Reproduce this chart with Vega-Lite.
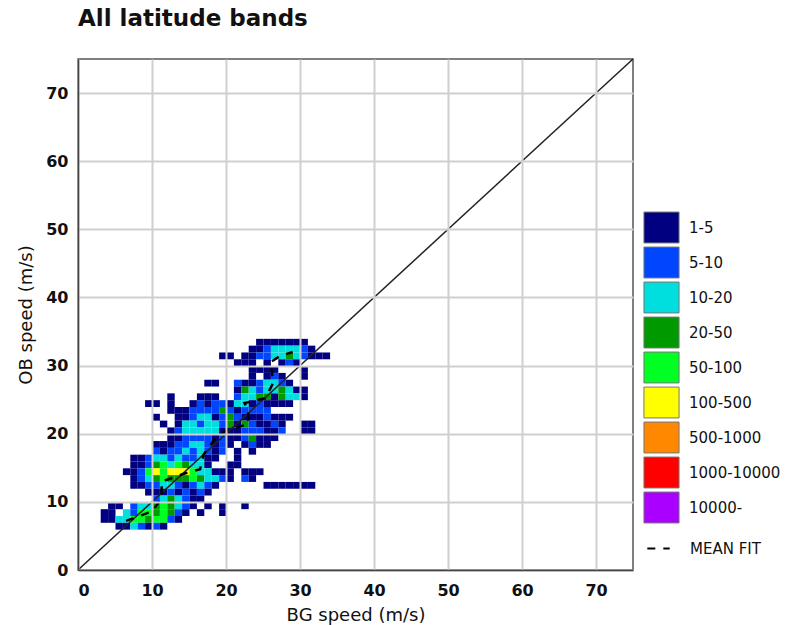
{
  "$schema": "https://vega.github.io/schema/vega-lite/v6.json",
  "autosize": {"type": "none"},
  "padding": {"left": 78, "top": 59, "right": 159, "bottom": 55},
  "width": 555,
  "height": 511,
  "title": {"text": "All latitude bands", "anchor": "start", "frame": "group", "fontSize": 23, "fontWeight": "bold", "font": "DejaVu Sans", "color": "#111", "baseline": "alphabetic", "offset": 7},
  "config": {
    "font": "DejaVu Sans",
    "view": {"stroke": "#555", "strokeWidth": 1.5},
    "axis": {"grid": true, "gridColor": "#d0d0d0", "gridWidth": 2, "ticks": false, "domainColor": "#444", "domainWidth": 1.5, "labelFontSize": 16, "labelFontWeight": "bold", "labelColor": "#111", "titleFontSize": 18, "titleFontWeight": "normal", "titleColor": "#111", "labelFont": "DejaVu Sans", "titleFont": "DejaVu Sans"}
  },
  "datasets": {
    "cells": [
      {"x":24,"y":33,"c":"1-5"},{"x":25,"y":33,"c":"1-5"},{"x":26,"y":33,"c":"1-5"},{"x":27,"y":33,"c":"1-5"},{"x":28,"y":33,"c":"1-5"},{"x":29,"y":33,"c":"1-5"},{"x":30,"y":33,"c":"1-5"},
      {"x":23,"y":32,"c":"1-5"},{"x":24,"y":32,"c":"1-5"},{"x":25,"y":32,"c":"5-10"},{"x":26,"y":32,"c":"10-20"},{"x":27,"y":32,"c":"10-20"},{"x":28,"y":32,"c":"10-20"},{"x":29,"y":32,"c":"10-20"},{"x":30,"y":32,"c":"5-10"},{"x":31,"y":32,"c":"1-5"},
      {"x":19,"y":31,"c":"1-5"},{"x":20,"y":31,"c":"1-5"},{"x":22,"y":31,"c":"1-5"},{"x":23,"y":31,"c":"1-5"},{"x":24,"y":31,"c":"5-10"},{"x":25,"y":31,"c":"5-10"},{"x":26,"y":31,"c":"10-20"},{"x":27,"y":31,"c":"10-20"},{"x":28,"y":31,"c":"20-50"},{"x":29,"y":31,"c":"10-20"},{"x":30,"y":31,"c":"5-10"},{"x":31,"y":31,"c":"1-5"},{"x":32,"y":31,"c":"1-5"},{"x":33,"y":31,"c":"1-5"},
      {"x":21,"y":30,"c":"1-5"},{"x":22,"y":30,"c":"1-5"},{"x":23,"y":30,"c":"1-5"},{"x":25,"y":30,"c":"1-5"},{"x":27,"y":30,"c":"1-5"},{"x":28,"y":30,"c":"5-10"},{"x":29,"y":30,"c":"1-5"},
      {"x":23,"y":29,"c":"1-5"},{"x":24,"y":29,"c":"1-5"},{"x":25,"y":29,"c":"1-5"},{"x":26,"y":29,"c":"1-5"},{"x":30,"y":29,"c":"1-5"},
      {"x":23,"y":28,"c":"1-5"},{"x":25,"y":28,"c":"1-5"},{"x":26,"y":28,"c":"5-10"},{"x":27,"y":28,"c":"1-5"},{"x":30,"y":28,"c":"1-5"},
      {"x":17,"y":27,"c":"1-5"},{"x":18,"y":27,"c":"1-5"},{"x":21,"y":27,"c":"5-10"},{"x":22,"y":27,"c":"1-5"},{"x":23,"y":27,"c":"1-5"},{"x":24,"y":27,"c":"5-10"},{"x":25,"y":27,"c":"10-20"},{"x":26,"y":27,"c":"10-20"},{"x":27,"y":27,"c":"5-10"},{"x":28,"y":27,"c":"1-5"},
      {"x":21,"y":26,"c":"1-5"},{"x":22,"y":26,"c":"20-50"},{"x":23,"y":26,"c":"10-20"},{"x":24,"y":26,"c":"5-10"},{"x":25,"y":26,"c":"10-20"},{"x":26,"y":26,"c":"10-20"},{"x":27,"y":26,"c":"20-50"},{"x":28,"y":26,"c":"10-20"},{"x":29,"y":26,"c":"1-5"},{"x":30,"y":26,"c":"1-5"},
      {"x":12,"y":25,"c":"1-5"},{"x":16,"y":25,"c":"1-5"},{"x":17,"y":25,"c":"1-5"},{"x":18,"y":25,"c":"1-5"},{"x":21,"y":25,"c":"5-10"},{"x":22,"y":25,"c":"10-20"},{"x":23,"y":25,"c":"10-20"},{"x":24,"y":25,"c":"20-50"},{"x":25,"y":25,"c":"20-50"},{"x":26,"y":25,"c":"1-5"},{"x":27,"y":25,"c":"20-50"},{"x":28,"y":25,"c":"10-20"},{"x":29,"y":25,"c":"10-20"},{"x":30,"y":25,"c":"1-5"},
      {"x":9,"y":24,"c":"1-5"},{"x":10,"y":24,"c":"1-5"},{"x":12,"y":24,"c":"1-5"},{"x":15,"y":24,"c":"1-5"},{"x":16,"y":24,"c":"5-10"},{"x":17,"y":24,"c":"1-5"},{"x":18,"y":24,"c":"5-10"},{"x":19,"y":24,"c":"5-10"},{"x":20,"y":24,"c":"1-5"},{"x":21,"y":24,"c":"10-20"},{"x":22,"y":24,"c":"10-20"},{"x":23,"y":24,"c":"1-5"},{"x":24,"y":24,"c":"5-10"},{"x":25,"y":24,"c":"1-5"},{"x":26,"y":24,"c":"1-5"},{"x":27,"y":24,"c":"1-5"},{"x":28,"y":24,"c":"1-5"},
      {"x":12,"y":23,"c":"1-5"},{"x":13,"y":23,"c":"1-5"},{"x":14,"y":23,"c":"1-5"},{"x":15,"y":23,"c":"5-10"},{"x":16,"y":23,"c":"5-10"},{"x":17,"y":23,"c":"5-10"},{"x":18,"y":23,"c":"5-10"},{"x":19,"y":23,"c":"20-50"},{"x":20,"y":23,"c":"5-10"},{"x":21,"y":23,"c":"1-5"},{"x":22,"y":23,"c":"5-10"},{"x":23,"y":23,"c":"5-10"},{"x":24,"y":23,"c":"5-10"},{"x":25,"y":23,"c":"5-10"},
      {"x":10,"y":22,"c":"1-5"},{"x":13,"y":22,"c":"1-5"},{"x":14,"y":22,"c":"1-5"},{"x":15,"y":22,"c":"5-10"},{"x":16,"y":22,"c":"10-20"},{"x":17,"y":22,"c":"10-20"},{"x":18,"y":22,"c":"1-5"},{"x":19,"y":22,"c":"5-10"},{"x":20,"y":22,"c":"20-50"},{"x":21,"y":22,"c":"5-10"},{"x":22,"y":22,"c":"1-5"},{"x":23,"y":22,"c":"1-5"},{"x":24,"y":22,"c":"1-5"},{"x":25,"y":22,"c":"5-10"},{"x":26,"y":22,"c":"1-5"},{"x":27,"y":22,"c":"1-5"},{"x":28,"y":22,"c":"1-5"},
      {"x":11,"y":21,"c":"1-5"},{"x":13,"y":21,"c":"1-5"},{"x":14,"y":21,"c":"10-20"},{"x":15,"y":21,"c":"10-20"},{"x":16,"y":21,"c":"5-10"},{"x":17,"y":21,"c":"10-20"},{"x":18,"y":21,"c":"10-20"},{"x":19,"y":21,"c":"5-10"},{"x":20,"y":21,"c":"20-50"},{"x":21,"y":21,"c":"1-5"},{"x":22,"y":21,"c":"20-50"},{"x":23,"y":21,"c":"5-10"},{"x":24,"y":21,"c":"1-5"},{"x":25,"y":21,"c":"1-5"},{"x":26,"y":21,"c":"5-10"},{"x":27,"y":21,"c":"1-5"},{"x":30,"y":21,"c":"1-5"},{"x":31,"y":21,"c":"1-5"},
      {"x":12,"y":20,"c":"1-5"},{"x":13,"y":20,"c":"5-10"},{"x":14,"y":20,"c":"10-20"},{"x":15,"y":20,"c":"10-20"},{"x":16,"y":20,"c":"10-20"},{"x":17,"y":20,"c":"10-20"},{"x":18,"y":20,"c":"10-20"},{"x":19,"y":20,"c":"1-5"},{"x":20,"y":20,"c":"1-5"},{"x":21,"y":20,"c":"1-5"},{"x":22,"y":20,"c":"5-10"},{"x":23,"y":20,"c":"5-10"},{"x":24,"y":20,"c":"5-10"},{"x":25,"y":20,"c":"1-5"},{"x":26,"y":20,"c":"1-5"},{"x":27,"y":20,"c":"5-10"},{"x":30,"y":20,"c":"1-5"},{"x":31,"y":20,"c":"1-5"},
      {"x":12,"y":19,"c":"1-5"},{"x":13,"y":19,"c":"1-5"},{"x":14,"y":19,"c":"5-10"},{"x":15,"y":19,"c":"5-10"},{"x":16,"y":19,"c":"5-10"},{"x":17,"y":19,"c":"5-10"},{"x":18,"y":19,"c":"1-5"},{"x":19,"y":19,"c":"5-10"},{"x":20,"y":19,"c":"1-5"},{"x":21,"y":19,"c":"1-5"},{"x":22,"y":19,"c":"5-10"},{"x":23,"y":19,"c":"20-50"},{"x":24,"y":19,"c":"1-5"},{"x":25,"y":19,"c":"1-5"},{"x":26,"y":19,"c":"1-5"},
      {"x":10,"y":18,"c":"1-5"},{"x":11,"y":18,"c":"1-5"},{"x":12,"y":18,"c":"1-5"},{"x":13,"y":18,"c":"5-10"},{"x":14,"y":18,"c":"5-10"},{"x":15,"y":18,"c":"10-20"},{"x":16,"y":18,"c":"10-20"},{"x":17,"y":18,"c":"5-10"},{"x":18,"y":18,"c":"1-5"},{"x":19,"y":18,"c":"5-10"},{"x":20,"y":18,"c":"1-5"},{"x":22,"y":18,"c":"1-5"},{"x":23,"y":18,"c":"5-10"},{"x":24,"y":18,"c":"1-5"},{"x":25,"y":18,"c":"1-5"},
      {"x":10,"y":17,"c":"5-10"},{"x":11,"y":17,"c":"1-5"},{"x":12,"y":17,"c":"5-10"},{"x":13,"y":17,"c":"5-10"},{"x":14,"y":17,"c":"10-20"},{"x":15,"y":17,"c":"5-10"},{"x":16,"y":17,"c":"10-20"},{"x":17,"y":17,"c":"5-10"},{"x":18,"y":17,"c":"1-5"},{"x":19,"y":17,"c":"5-10"},{"x":21,"y":17,"c":"1-5"},{"x":23,"y":17,"c":"1-5"},
      {"x":7,"y":16,"c":"1-5"},{"x":8,"y":16,"c":"1-5"},{"x":9,"y":16,"c":"5-10"},{"x":10,"y":16,"c":"10-20"},{"x":11,"y":16,"c":"10-20"},{"x":12,"y":16,"c":"5-10"},{"x":13,"y":16,"c":"10-20"},{"x":14,"y":16,"c":"5-10"},{"x":15,"y":16,"c":"5-10"},{"x":16,"y":16,"c":"10-20"},{"x":17,"y":16,"c":"1-5"},{"x":18,"y":16,"c":"1-5"},{"x":21,"y":16,"c":"1-5"},
      {"x":7,"y":15,"c":"1-5"},{"x":8,"y":15,"c":"1-5"},{"x":9,"y":15,"c":"5-10"},{"x":10,"y":15,"c":"20-50"},{"x":11,"y":15,"c":"50-100"},{"x":12,"y":15,"c":"10-20"},{"x":13,"y":15,"c":"50-100"},{"x":14,"y":15,"c":"20-50"},{"x":15,"y":15,"c":"10-20"},{"x":16,"y":15,"c":"10-20"},{"x":17,"y":15,"c":"1-5"},{"x":20,"y":15,"c":"1-5"},{"x":21,"y":15,"c":"1-5"},
      {"x":6,"y":14,"c":"1-5"},{"x":7,"y":14,"c":"1-5"},{"x":8,"y":14,"c":"5-10"},{"x":9,"y":14,"c":"50-100"},{"x":10,"y":14,"c":"100-500"},{"x":11,"y":14,"c":"50-100"},{"x":12,"y":14,"c":"100-500"},{"x":13,"y":14,"c":"100-500"},{"x":14,"y":14,"c":"100-500"},{"x":15,"y":14,"c":"50-100"},{"x":16,"y":14,"c":"10-20"},{"x":17,"y":14,"c":"10-20"},{"x":18,"y":14,"c":"1-5"},{"x":19,"y":14,"c":"1-5"},{"x":20,"y":14,"c":"1-5"},{"x":22,"y":14,"c":"1-5"},{"x":23,"y":14,"c":"1-5"},{"x":24,"y":14,"c":"1-5"},
      {"x":7,"y":13,"c":"1-5"},{"x":8,"y":13,"c":"5-10"},{"x":9,"y":13,"c":"10-20"},{"x":10,"y":13,"c":"20-50"},{"x":11,"y":13,"c":"50-100"},{"x":12,"y":13,"c":"20-50"},{"x":13,"y":13,"c":"20-50"},{"x":14,"y":13,"c":"20-50"},{"x":15,"y":13,"c":"50-100"},{"x":16,"y":13,"c":"20-50"},{"x":17,"y":13,"c":"10-20"},{"x":18,"y":13,"c":"10-20"},{"x":19,"y":13,"c":"5-10"},{"x":20,"y":13,"c":"1-5"},{"x":22,"y":13,"c":"5-10"},{"x":23,"y":13,"c":"1-5"},
      {"x":7,"y":12,"c":"1-5"},{"x":8,"y":12,"c":"1-5"},{"x":9,"y":12,"c":"5-10"},{"x":10,"y":12,"c":"5-10"},{"x":11,"y":12,"c":"10-20"},{"x":12,"y":12,"c":"10-20"},{"x":13,"y":12,"c":"5-10"},{"x":14,"y":12,"c":"1-5"},{"x":15,"y":12,"c":"5-10"},{"x":16,"y":12,"c":"10-20"},{"x":17,"y":12,"c":"5-10"},{"x":18,"y":12,"c":"1-5"},{"x":25,"y":12,"c":"1-5"},{"x":26,"y":12,"c":"1-5"},{"x":27,"y":12,"c":"1-5"},{"x":28,"y":12,"c":"1-5"},{"x":29,"y":12,"c":"1-5"},{"x":30,"y":12,"c":"1-5"},{"x":31,"y":12,"c":"1-5"},
      {"x":9,"y":11,"c":"1-5"},{"x":10,"y":11,"c":"1-5"},{"x":11,"y":11,"c":"1-5"},{"x":12,"y":11,"c":"5-10"},{"x":13,"y":11,"c":"1-5"},{"x":14,"y":11,"c":"5-10"},{"x":15,"y":11,"c":"1-5"},{"x":16,"y":11,"c":"5-10"},{"x":17,"y":11,"c":"1-5"},
      {"x":10,"y":10,"c":"5-10"},{"x":11,"y":10,"c":"10-20"},{"x":12,"y":10,"c":"20-50"},{"x":13,"y":10,"c":"10-20"},{"x":14,"y":10,"c":"5-10"},{"x":15,"y":10,"c":"1-5"},{"x":16,"y":10,"c":"1-5"},
      {"x":4,"y":9,"c":"1-5"},{"x":5,"y":9,"c":"1-5"},{"x":7,"y":9,"c":"5-10"},{"x":8,"y":9,"c":"10-20"},{"x":9,"y":9,"c":"10-20"},{"x":10,"y":9,"c":"20-50"},{"x":11,"y":9,"c":"50-100"},{"x":12,"y":9,"c":"20-50"},{"x":13,"y":9,"c":"10-20"},{"x":14,"y":9,"c":"5-10"},{"x":15,"y":9,"c":"1-5"},{"x":17,"y":9,"c":"1-5"},{"x":19,"y":9,"c":"1-5"},{"x":22,"y":9,"c":"1-5"},
      {"x":3,"y":8,"c":"1-5"},{"x":4,"y":8,"c":"1-5"},{"x":6,"y":8,"c":"10-20"},{"x":7,"y":8,"c":"5-10"},{"x":8,"y":8,"c":"50-100"},{"x":9,"y":8,"c":"50-100"},{"x":10,"y":8,"c":"20-50"},{"x":11,"y":8,"c":"50-100"},{"x":12,"y":8,"c":"20-50"},{"x":13,"y":8,"c":"5-10"},{"x":14,"y":8,"c":"1-5"},{"x":16,"y":8,"c":"1-5"},{"x":19,"y":8,"c":"1-5"},
      {"x":3,"y":7,"c":"1-5"},{"x":4,"y":7,"c":"1-5"},{"x":5,"y":7,"c":"10-20"},{"x":6,"y":7,"c":"10-20"},{"x":7,"y":7,"c":"50-100"},{"x":8,"y":7,"c":"50-100"},{"x":9,"y":7,"c":"20-50"},{"x":10,"y":7,"c":"50-100"},{"x":11,"y":7,"c":"50-100"},{"x":12,"y":7,"c":"5-10"},{"x":13,"y":7,"c":"1-5"},
      {"x":5,"y":6,"c":"1-5"},{"x":6,"y":6,"c":"1-5"},{"x":7,"y":6,"c":"10-20"},{"x":8,"y":6,"c":"5-10"},{"x":9,"y":6,"c":"1-5"},{"x":10,"y":6,"c":"5-10"},{"x":11,"y":6,"c":"1-5"}
    ],
    "diag": [{"x": 0, "y": 0}, {"x": 75, "y": 75}],
    "fit": [
      {"k":1,"x":6.5,"y":7.2,"s":"MEAN FIT"},{"k":2,"x":8,"y":7.8,"s":"MEAN FIT"},{"k":3,"x":10,"y":8.6,"s":"MEAN FIT"},{"k":4,"x":11.3,"y":10.5,"s":"MEAN FIT"},{"k":5,"x":11.3,"y":13,"s":"MEAN FIT"},{"k":6,"x":13,"y":13.6,"s":"MEAN FIT"},{"k":7,"x":14.5,"y":14.2,"s":"MEAN FIT"},{"k":8,"x":16.5,"y":14.8,"s":"MEAN FIT"},{"k":9,"x":17,"y":17,"s":"MEAN FIT"},{"k":10,"x":18.5,"y":19.2,"s":"MEAN FIT"},{"k":11,"x":20,"y":20.5,"s":"MEAN FIT"},{"k":12,"x":23,"y":21.4,"s":"MEAN FIT"},{"k":13,"x":23,"y":23.5,"s":"MEAN FIT"},{"k":14,"x":22.5,"y":24.5,"s":"MEAN FIT"},{"k":15,"x":25.3,"y":25.2,"s":"MEAN FIT"},{"k":16,"x":26.4,"y":27.5,"s":"MEAN FIT"},{"k":17,"x":26,"y":30.5,"s":"MEAN FIT"},{"k":18,"x":27.3,"y":31.4,"s":"MEAN FIT"},{"k":19,"x":29,"y":32,"s":"MEAN FIT"}
    ]
  },
  "layer": [
    {
      "data": {"name": "cells"},
      "mark": {"type": "rect", "stroke": null},
      "encoding": {
        "x": {"field": "x", "type": "quantitative", "bin": {"binned": true, "step": 1}, "scale": {"domain": [0, 75], "nice": false}, "axis": {"values": [0, 10, 20, 30, 40, 50, 60, 70], "title": "BG speed (m/s)", "labelPadding": 12, "titlePadding": 8, "format": "d"}},
        "y": {"field": "y", "type": "quantitative", "bin": {"binned": true, "step": 1}, "scale": {"domain": [0, 75], "nice": false}, "axis": {"values": [0, 10, 20, 30, 40, 50, 60, 70], "title": "OB speed (m/s)", "labelPadding": 10, "titlePadding": 10, "format": "d"}},
        "color": {"field": "c", "type": "nominal", "scale": {"domain": ["1-5", "5-10", "10-20", "20-50", "50-100", "100-500", "500-1000", "1000-10000", "10000-"], "range": ["#000080", "#0046ff", "#00dede", "#009a00", "#00ff22", "#ffff00", "#ff8800", "#ff0000", "#aa00ff"]}, "legend": {"orient": "none", "legendX": 568, "legendY": 153, "title": null, "symbolType": "M-1.17,-1.03H1.17V1.03H-1.17Z", "symbolSize": 900, "symbolStrokeColor": "#777", "symbolStrokeWidth": 1, "symbolOpacity": 1, "labelFont": "DejaVu Sans", "labelFontSize": 15, "labelColor": "#111", "labelOffset": 12, "rowPadding": 0}}
      }
    },
    {
      "data": {"name": "diag"},
      "mark": {"type": "line", "color": "#222", "strokeWidth": 1.5},
      "encoding": {"x": {"field": "x", "type": "quantitative"}, "y": {"field": "y", "type": "quantitative"}}
    },
    {
      "data": {"name": "fit"},
      "mark": {"type": "line", "color": "#000", "strokeWidth": 2.5},
      "encoding": {
        "x": {"field": "x", "type": "quantitative"},
        "y": {"field": "y", "type": "quantitative"},
        "order": {"field": "k", "type": "quantitative"},
        "strokeDash": {"field": "s", "type": "nominal", "scale": {"domain": ["MEAN FIT"], "range": [[8, 8]]}, "legend": {"orient": "none", "legendX": 568, "legendY": 477, "title": null, "symbolSize": 500, "symbolStrokeWidth": 2, "symbolStrokeColor": "#000", "labelFont": "DejaVu Sans", "labelFontSize": 15, "labelColor": "#111", "labelOffset": 19}}
      }
    }
  ]
}
